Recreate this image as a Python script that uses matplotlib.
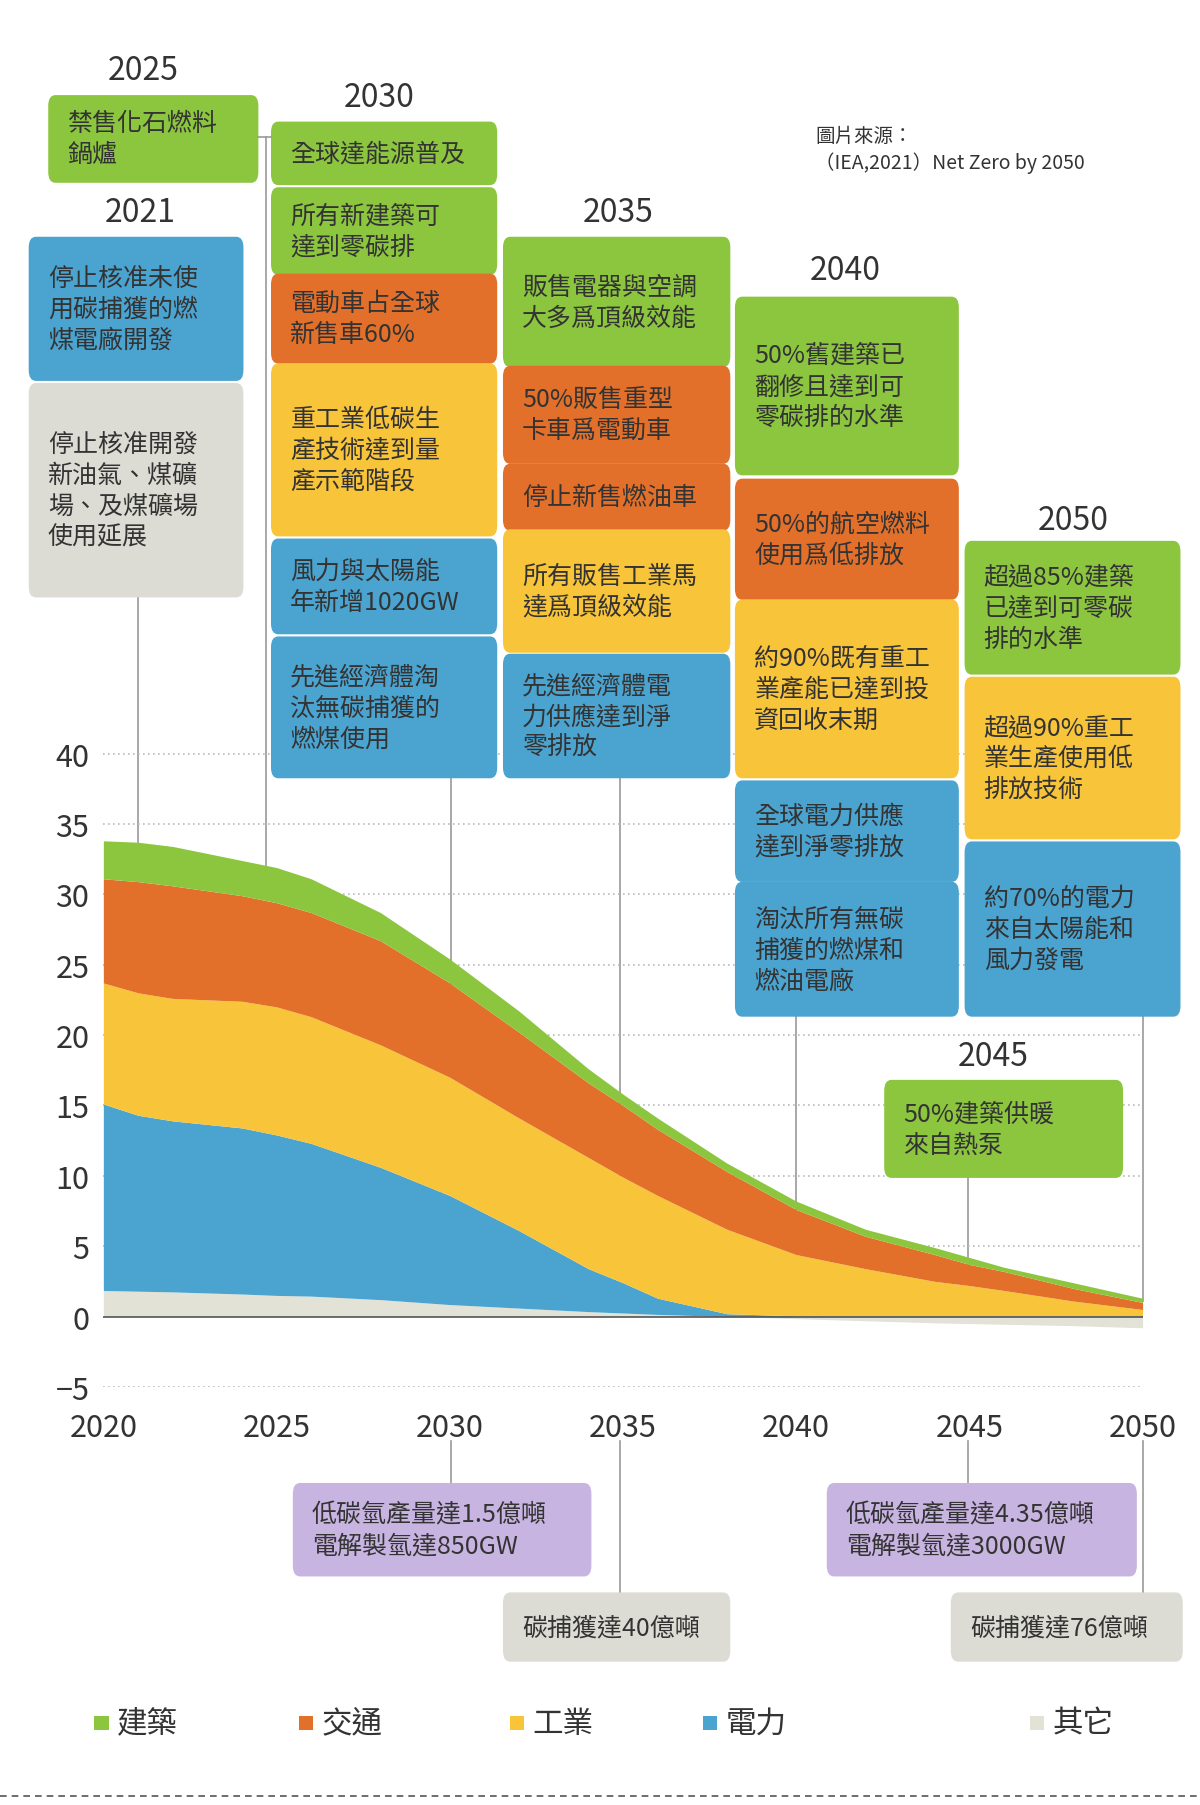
import numpy as np
import matplotlib.pyplot as plt
from matplotlib.patches import FancyBboxPatch, Rectangle
from matplotlib.lines import Line2D

plt.rcParams['font.family'] = ['Noto Sans CJK TC', 'DejaVu Sans']

# emissions by sector (Gt CO2)
years = [2020, 2021, 2022, 2024, 2025, 2026, 2028, 2030, 2032, 2034, 2035,
         2036, 2038, 2040, 2042, 2044, 2045, 2046, 2048, 2050]
other = [1.85, 1.8, 1.75, 1.6, 1.5, 1.45, 1.2, 0.85, 0.6, 0.35, 0.25,
         0.15, 0.0, -0.15, -0.3, -0.45, -0.5, -0.55, -0.65, -0.8]
power = [13.25, 12.5, 12.15, 11.8, 11.4, 10.85, 9.4, 7.75, 5.5, 3.05, 2.15,
         1.15, 0.2, 0.05, 0.05, 0.05, 0.05, 0.05, 0.05, 0.05]
industry = [8.6, 8.7, 8.7, 9.0, 9.1, 9.0, 8.7, 8.4, 8.0, 7.9, 7.5,
            7.3, 6.0, 4.35, 3.35, 2.45, 2.15, 1.8, 1.05, 0.45]
transport = [7.4, 7.9, 8.0, 7.5, 7.4, 7.4, 7.4, 6.7, 6.1, 5.3, 5.1,
             4.7, 4.1, 3.2, 2.3, 1.9, 1.5, 1.35, 0.9, 0.5]
buildings = [2.7, 2.8, 2.8, 2.5, 2.5, 2.4, 2.0, 1.7, 1.5, 1.0, 0.8,
             0.8, 0.6, 0.6, 0.5, 0.5, 0.5, 0.3, 0.4, 0.3]

sectors = ['建築', '交通', '工業', '電力', '其它']
GREEN, ORANGE, YELLOW, BLUE, GREY = '#8cc63f', '#e2702a', '#f8c43a', '#4ba3cf', '#e3e2d6'
PURPLE, LGREY = '#c8b4e0', '#dcdcd4'
colors = [GREEN, ORANGE, YELLOW, BLUE, GREY]

W, H = 1045, 1568  # layout grid


def fx(x):
    return x / W


def fy(y):
    return 1 - y / H


fig = plt.figure(figsize=(12, 18.06), dpi=100)
fig.patch.set_facecolor('white')

# chart
ax = fig.add_axes([fx(90), fy(1205), fx(995) - fx(90), fy(594) - fy(1205)])
yr = np.array(years, float)
oth = np.array(other)
base = np.maximum(oth, 0)
t_pow = base + np.array(power)
t_ind = t_pow + np.array(industry)
t_tra = t_ind + np.array(transport)
t_bld = t_tra + np.array(buildings)
ax.fill_between(yr, 0, oth, color=GREY, lw=0)
ax.fill_between(yr, base, t_pow, color=BLUE, lw=0)
ax.fill_between(yr, t_pow, t_ind, color=YELLOW, lw=0)
ax.fill_between(yr, t_ind, t_tra, color=ORANGE, lw=0)
ax.fill_between(yr, t_tra, t_bld, color=GREEN, lw=0)
ax.axhline(0, color='#555555', lw=1.2, zorder=3)
for v in [-5, 5, 10, 15, 20, 25, 30, 35, 40]:
    ax.axhline(v, color='#bbbbbb', lw=1.2, ls=(0, (1, 2)), zorder=0)
ax.set_xlim(2020, 2050)
ax.set_ylim(-5, 45)
ax.set_yticks([-5, 0, 5, 10, 15, 20, 25, 30, 35, 40])
ax.set_yticklabels(['−5', '0', '5', '10', '15', '20', '25', '30', '35', '40'])
ax.set_xticks([2020, 2025, 2030, 2035, 2040, 2045, 2050])
ax.tick_params(length=0, labelsize=22, labelcolor='#333333', pad=10)
ax.tick_params(axis='x', pad=18)
for s in ax.spines.values():
    s.set_visible(False)
ax.patch.set_alpha(0)

# leader lines
leaders = [(120, 518, 735), (232, 120, 762), (393, 675, 880), (393, 1252, 1290),
           (540, 675, 1062), (540, 1252, 1385), (693, 882, 1062),
           (843, 1022, 1100), (843, 1252, 1290), (995, 882, 1130), (995, 1252, 1385)]
for x, y0, y1 in leaders:
    fig.add_artist(Line2D([fx(x), fx(x)], [fy(y0), fy(y1)], color='#999999', lw=1.2, zorder=0))
fig.add_artist(Line2D([fx(225), fx(236)], [fy(120), fy(120)], color='#999999', lw=1.2))

years_lbl = [('2025', 125, 62), ('2021', 122, 185), ('2030', 330, 85), ('2035', 538, 185),
             ('2040', 736, 235), ('2050', 935, 452), ('2045', 865, 918)]
for t, x, y in years_lbl:
    fig.text(fx(x), fy(y), t, fontsize=23, ha='center', va='center', color='#333333')

boxes = [
    (42, 85, 225, 158, '禁售化石燃料\n鍋爐', GREEN),
    (25, 208, 212, 330, '停止核准未使\n用碳捕獲的燃\n煤電廠開發', BLUE),
    (25, 335, 212, 518, '停止核准開發\n新油氣、煤礦\n場、及煤礦場\n使用延展', LGREY),
    (236, 108, 433, 160, '全球達能源普及', GREEN),
    (236, 165, 433, 238, '所有新建築可\n達到零碳排', GREEN),
    (236, 240, 433, 315, '電動車占全球\n新售車60%', ORANGE),
    (236, 318, 433, 465, '重工業低碳生\n產技術達到量\n產示範階段', YELLOW),
    (236, 470, 433, 550, '風力與太陽能\n年新增1020GW', BLUE),
    (236, 555, 433, 675, '先進經濟體淘\n汰無碳捕獲的\n燃煤使用', BLUE),
    (438, 208, 636, 318, '販售電器與空調\n大多爲頂級效能', GREEN),
    (438, 320, 636, 402, '50%販售重型\n卡車爲電動車', ORANGE),
    (438, 405, 636, 460, '停止新售燃油車', ORANGE),
    (438, 462, 636, 566, '所有販售工業馬\n達爲頂級效能', YELLOW),
    (438, 570, 636, 675, '先進經濟體電\n力供應達到淨\n零排放', BLUE),
    (640, 260, 835, 412, '50%舊建築已\n翻修且達到可\n零碳排的水準', GREEN),
    (640, 418, 835, 520, '50%的航空燃料\n使用爲低排放', ORANGE),
    (640, 523, 835, 675, '約90%既有重工\n業產能已達到投\n資回收末期', YELLOW),
    (640, 680, 835, 765, '全球電力供應\n達到淨零排放', BLUE),
    (640, 768, 835, 882, '淘汰所有無碳\n捕獲的燃煤和\n燃油電廠', BLUE),
    (840, 472, 1028, 585, '超過85%建築\n已達到可零碳\n排的水準', GREEN),
    (840, 590, 1028, 728, '超過90%重工\n業生產使用低\n排放技術', YELLOW),
    (840, 733, 1028, 882, '約70%的電力\n來自太陽能和\n風力發電', BLUE),
    (770, 940, 978, 1022, '50%建築供暖\n來自熱泵', GREEN),
    (255, 1290, 515, 1368, '低碳氫產量達1.5億噸\n電解製氫達850GW', PURPLE),
    (438, 1385, 636, 1442, '碳捕獲達40億噸', LGREY),
    (720, 1290, 990, 1368, '低碳氫產量達4.35億噸\n電解製氫達3000GW', PURPLE),
    (828, 1385, 1030, 1442, '碳捕獲達76億噸', LGREY),
]
for x0, y0, x1, y1, txt, c in boxes:
    p = FancyBboxPatch((fx(x0) + 0.004, fy(y1) + 0.003), fx(x1) - fx(x0) - 0.008,
                       fy(y0) - fy(y1) - 0.006, boxstyle='round,pad=0.004,rounding_size=0.006',
                       transform=fig.transFigure, facecolor=c, edgecolor='none')
    fig.add_artist(p)
    fig.text(fx(x0) + 0.016, (fy(y0) + fy(y1)) / 2, txt, fontsize=18, ha='left',
             va='center', color='#333333', linespacing=1.25)

fig.text(fx(710), fy(130), '圖片來源：\n（IEA,2021）Net Zero by 2050', fontsize=14,
         ha='left', va='center', color='#333333', linespacing=1.3)

# legend
for name, c, x in zip(sectors, colors, [90, 268, 452, 620, 905]):
    fig.add_artist(Rectangle((fx(x - 8), fy(1503)), 0.012, 0.008, transform=fig.transFigure,
                             facecolor=c, edgecolor='none'))
    fig.text(fx(x + 12), fy(1497), name, fontsize=22, ha='left', va='center', color='#333333')

fig.add_artist(Line2D([0.0, 1.0], [fy(1560), fy(1560)], color='#555555', lw=1.2, ls=(0, (4, 3))))

fig.savefig('out.png', dpi=100, facecolor='white')
